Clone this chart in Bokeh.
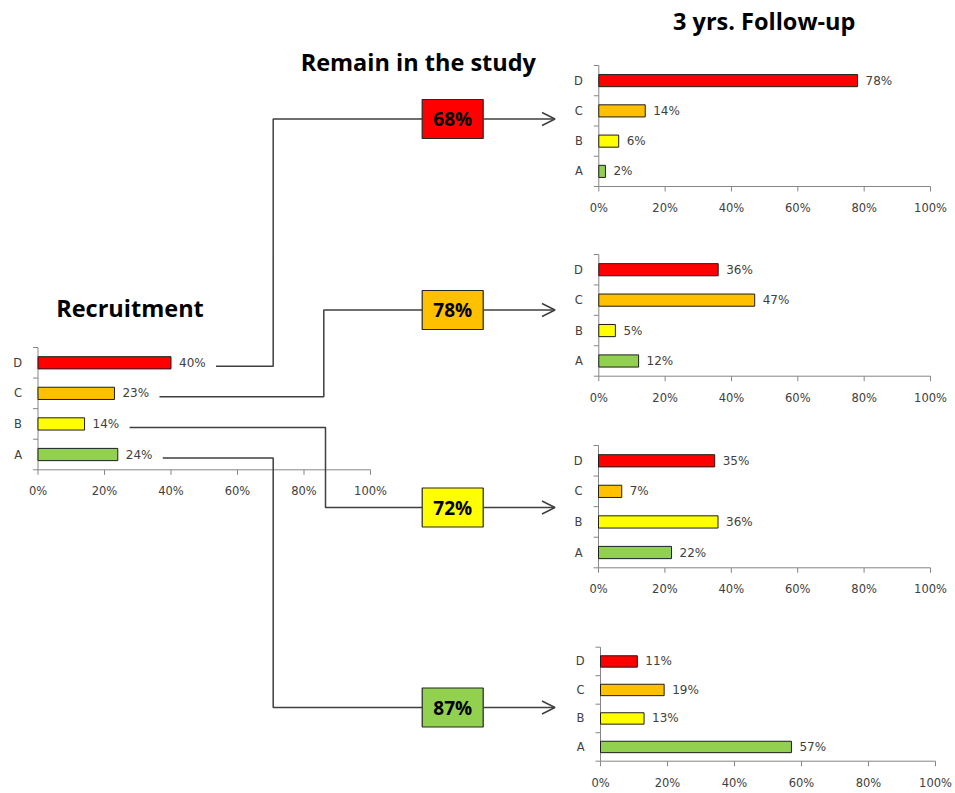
from bokeh.plotting import figure
from bokeh.models import Range1d, Arrow, OpenHead
from bokeh.core.properties import value
from bokeh.embed import file_html
from bokeh.resources import INLINE

# ---------------- data ----------------
categories = ["A", "B", "C", "D"]
cat_colors = ["#92D050", "#FFFF00", "#FFC000", "#FF0000"]

recruitment = [24, 14, 23, 40]          # % of patients per group at recruitment (A..D)
remain = [87, 72, 78, 68]               # % of each group remaining in the study (A..D)

follow_up_from_d = [2, 6, 14, 78]       # 3-year outcome (A..D) for group D
follow_up_from_c = [12, 5, 47, 36]      # for group C
follow_up_from_b = [22, 36, 7, 35]      # for group B
follow_up_from_a = [57, 13, 19, 11]     # for group A

tick_values = [0, 20, 40, 60, 80, 100]
tick_labels = ["0%", "20%", "40%", "60%", "80%", "100%"]

title_recruitment = "Recruitment"
title_remain = "Remain in the study"
title_follow = "3 yrs. Follow-up"

# ---------------- styling ----------------
W, H = 955, 793
AXIS = "#868686"
TEXT = "#404040"
LINK = "#3f3f3f"
SMALL_FONT = value("DejaVu Sans")
BIG_FONT = value("Open Sans")

p = figure(width=W, height=H, x_range=Range1d(0, W), y_range=Range1d(H, 0),
           x_axis_type=None, y_axis_type=None, toolbar_location=None,
           output_backend="svg", min_border=0)
p.outline_line_color = None
p.background_fill_color = "white"
p.border_fill_color = "white"


def bar_panel(x0, x1, ytop, ybase, values):
    """Horizontal bar chart (A at bottom, D at top) placed in a sub-region."""
    sub = p.subplot(x_source=Range1d(0, 100), y_source=Range1d(0, 4),
                    x_target=Range1d(x0, x1), y_target=Range1d(ybase, ytop))
    pos = [i + 0.5 for i in range(len(categories))]
    px_x = (x1 - x0) / 100.0
    px_y = (ybase - ytop) / 4.0

    # axis lines and tick marks
    sub.segment(x0=[0, 0], y0=[0, 0], x1=[0, 100], y1=[4, 0],
                line_color=AXIS, line_width=1)
    sub.segment(x0=tick_values, y0=0, x1=tick_values, y1=-5.0 / px_y,
                line_color=AXIS, line_width=1)
    sub.segment(x0=0, y0=[0, 1, 2, 3, 4], x1=-5.0 / px_x, y1=[0, 1, 2, 3, 4],
                line_color=AXIS, line_width=1)

    sub.hbar(y=pos, left=0, right=values, height=0.4,
             fill_color=cat_colors, line_color="#1e1e1e", line_width=1)

    sub.text(x=tick_values, y=0, text=tick_labels, y_offset=21.5,
             text_align="center", text_baseline="middle",
             text_font=SMALL_FONT, text_font_size="11.5px", text_color=TEXT)
    sub.text(x=0, y=pos, text=categories, x_offset=-16,
             text_align="right", text_baseline="middle",
             text_font=SMALL_FONT, text_font_size="11.5px", text_color=TEXT)
    sub.text(x=values, y=pos, text=[f"{v}%" for v in values], x_offset=8,
             text_align="left", text_baseline="middle",
             text_font=SMALL_FONT, text_font_size="12px", text_color=TEXT)


# recruitment panel
L_X0, L_X1, L_TOP, L_BASE = 37.5, 370.0, 347.0, 469.3
bar_panel(L_X0, L_X1, L_TOP, L_BASE, recruitment)

# follow-up panels, top to bottom: D, C, B, A
panels = [
    (598.3, 930.0, 65.0, 186.0, follow_up_from_d),
    (598.3, 930.0, 254.0, 375.7, follow_up_from_c),
    (598.0, 930.0, 445.0, 567.3, follow_up_from_b),
    (600.0, 935.0, 646.7, 760.7, follow_up_from_a),
]
for x0, x1, yt, yb, vals in panels:
    bar_panel(x0, x1, yt, yb, vals)

# connectors from each recruitment bar to its "remain" box, then arrows
order = [3, 2, 1, 0]                     # D, C, B, A
elbow_x = [272.7, 323.3, 325.0, 272.7]
box_y = [118.5, 309.5, 507.0, 707.0]
BOX_L, BOX_R, BOX_H = 421.7, 482.7, 39.0
ARROW_END = 554.5

band = (L_BASE - L_TOP) / 4.0
xs, ys = [], []
for k, i in enumerate(order):
    sx = L_X0 + recruitment[i] * (L_X1 - L_X0) / 100.0 + 45
    sy = L_BASE - (i + 0.5) * band + 3.5
    xs.append([sx, elbow_x[k], elbow_x[k], BOX_L])
    ys.append([sy, sy, box_y[k], box_y[k]])
p.multi_line(xs=xs, ys=ys, line_color=LINK, line_width=1.5)

for k, i in enumerate(order):
    p.add_layout(Arrow(end=OpenHead(size=13, line_color=LINK, line_width=1.5),
                       x_start=BOX_R, y_start=box_y[k], x_end=ARROW_END, y_end=box_y[k],
                       line_color=LINK, line_width=1.5))

box_colors = [cat_colors[i] for i in order]
box_text = [f"{remain[i]}%" for i in order]
box_cx = (BOX_L + BOX_R) / 2
p.rect(x=[box_cx] * 4, y=box_y, width=BOX_R - BOX_L, height=BOX_H,
       fill_color=box_colors, line_color="#262626", line_width=1.2)
p.text(x=[box_cx] * 4, y=box_y, text=box_text,
       text_align="center", text_baseline="middle",
       text_font=BIG_FONT, text_font_style="bold", text_font_size="19px",
       text_color="black")

# headings
p.text(x=[129.5], y=[307.5], text=[title_recruitment], text_align="center",
       text_baseline="middle", text_font=BIG_FONT, text_font_style="bold",
       text_font_size="23.5px", text_color="black")
p.text(x=[417.8], y=[61.2], text=[title_remain], text_align="center",
       text_baseline="middle", text_font=BIG_FONT, text_font_style="bold",
       text_font_size="23.5px", text_color="black")
p.text(x=[763.7], y=[20.5], text=[title_follow], text_align="center",
       text_baseline="middle", text_font=BIG_FONT, text_font_style="bold",
       text_font_size="23.5px", text_color="black")

open("out.html", "w").write(file_html(p, INLINE))
